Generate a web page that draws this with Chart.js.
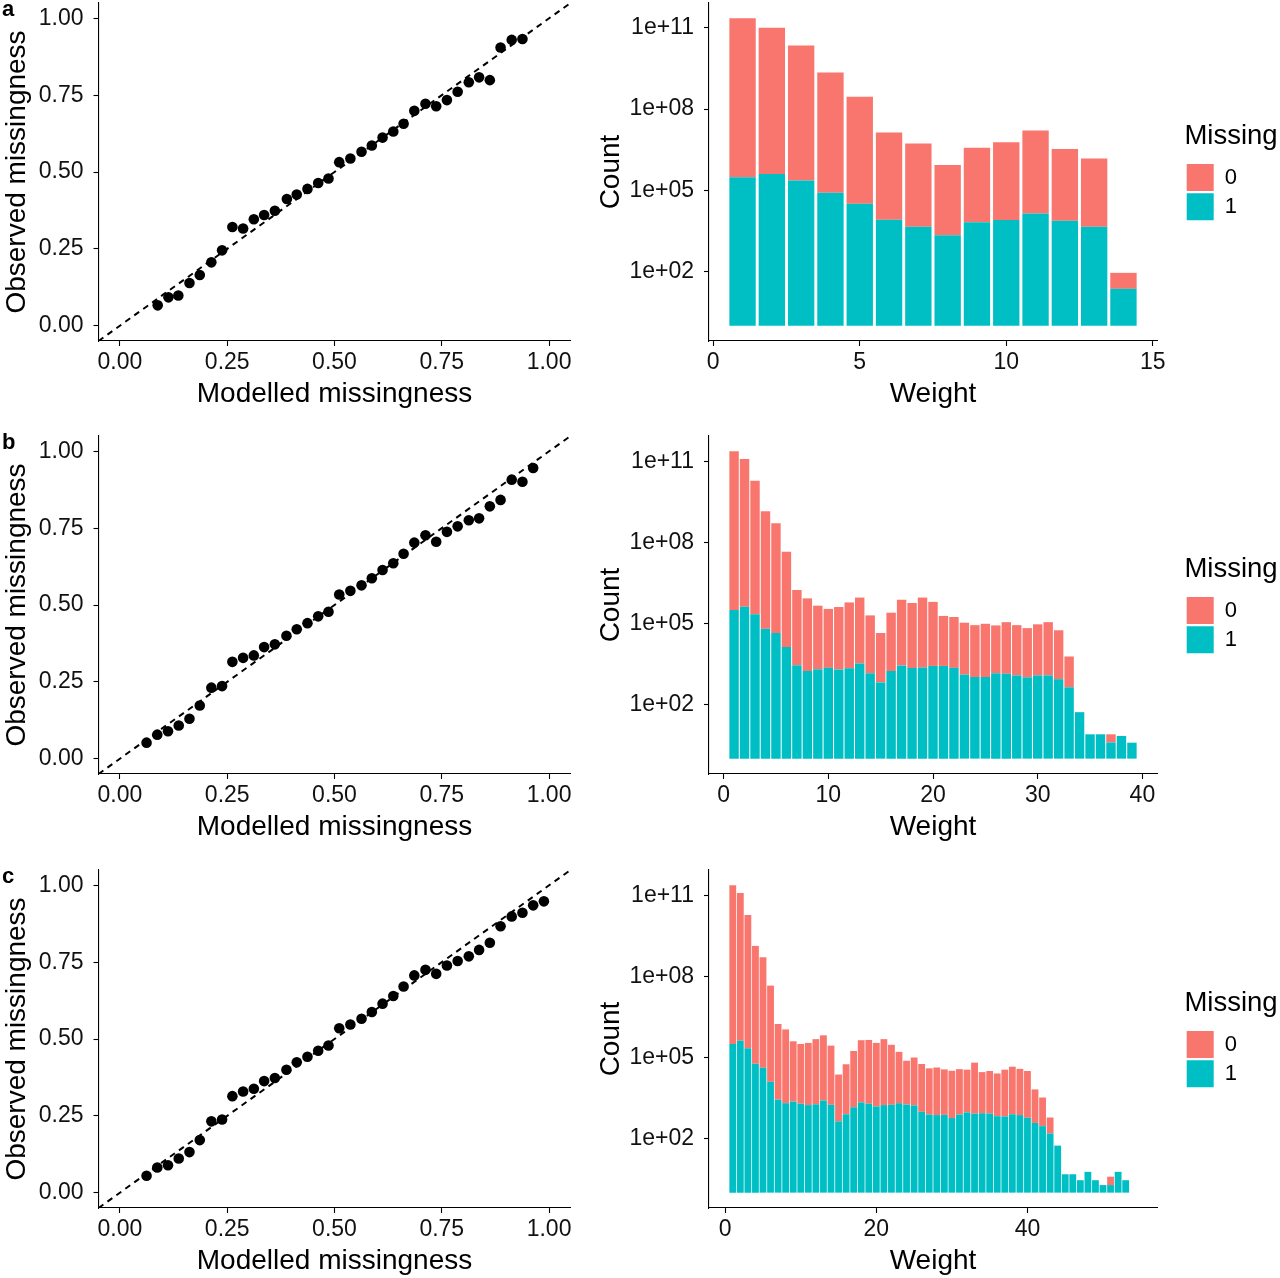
<!DOCTYPE html>
<html>
<head>
<meta charset="utf-8">
<script src="https://cdn.jsdelivr.net/npm/chart.js@4.4.1/dist/chart.umd.min.js"></script>
<style>
html,body{margin:0;padding:0;background:#fff;width:1280px;height:1278px;overflow:hidden;}
canvas{position:absolute;display:block;}
.tag{position:absolute;left:2px;font:bold 22px 'Liberation Sans',Arial,sans-serif;line-height:22px;color:#000;}
</style>
</head>
<body>
<script>
// ---------------- DATA ----------------
const scatterTicks = [0, 0.25, 0.5, 0.75, 1];
const scatterTickLabels = ['0.00', '0.25', '0.50', '0.75', '1.00'];

const modelledA = [0.088,0.113,0.136,0.162,0.186,0.213,0.238,0.262,0.287,0.312,0.336,0.361,0.389,0.412,0.437,0.462,0.486,0.511,0.537,0.563,0.587,0.612,0.637,0.661,0.686,0.712,0.737,0.762,0.787,0.813,0.837,0.862,0.887,0.913,0.938];
const observedA = [0.066,0.092,0.098,0.139,0.165,0.206,0.245,0.321,0.316,0.346,0.360,0.374,0.412,0.427,0.445,0.464,0.479,0.532,0.544,0.566,0.586,0.612,0.632,0.657,0.699,0.722,0.714,0.734,0.761,0.792,0.808,0.799,0.905,0.930,0.933];

const modelledB = [0.062,0.087,0.112,0.137,0.162,0.186,0.213,0.238,0.262,0.287,0.312,0.336,0.361,0.388,0.412,0.437,0.462,0.486,0.511,0.537,0.563,0.587,0.612,0.637,0.661,0.686,0.712,0.737,0.762,0.787,0.813,0.837,0.862,0.887,0.913,0.938,0.963];
const observedB = [0.052,0.078,0.089,0.108,0.130,0.173,0.231,0.236,0.315,0.328,0.336,0.363,0.372,0.400,0.421,0.441,0.463,0.478,0.534,0.546,0.564,0.587,0.614,0.636,0.667,0.703,0.727,0.706,0.738,0.756,0.776,0.782,0.821,0.842,0.908,0.901,0.946];

const modelledC = [0.062,0.087,0.112,0.137,0.162,0.186,0.213,0.238,0.262,0.287,0.312,0.336,0.361,0.388,0.412,0.437,0.462,0.486,0.511,0.537,0.563,0.587,0.612,0.637,0.661,0.686,0.712,0.737,0.762,0.787,0.813,0.837,0.862,0.887,0.913,0.938,0.963,0.988];
const observedC = [0.055,0.082,0.089,0.111,0.132,0.171,0.232,0.238,0.314,0.329,0.338,0.363,0.373,0.400,0.424,0.442,0.462,0.479,0.535,0.547,0.566,0.588,0.615,0.640,0.671,0.707,0.725,0.712,0.739,0.754,0.769,0.790,0.813,0.867,0.899,0.911,0.935,0.948];

// Count axis (bar heights are in log10 units, as drawn by the original stacked log plot)
const countTicks = [2, 5, 8, 11];
const countTickLabels = ['1e+02', '1e+05', '1e+08', '1e+11'];

const weightsA = [1,2,3,4,5,6,7,8,9,10,11,12,13,14];
const weightTicksA = [0, 5, 10, 15];
const logCount1A = [5.48,5.60,5.36,4.91,4.50,3.91,3.65,3.34,3.82,3.90,4.14,3.87,3.65,1.36];
const logCount0A = [5.87,5.40,4.99,4.44,3.95,3.22,3.08,2.59,2.75,2.87,3.07,2.65,2.52,0.59];

const weightsB = [1,2,3,4,5,6,7,8,9,10,11,12,13,14,15,16,17,18,19,20,21,22,23,24,25,26,27,28,29,30,31,32,33,34,35,36,37,38,39];
const weightTicksB = [0, 10, 20, 30, 40];
const logCount1B = [5.50,5.62,5.34,4.81,4.65,4.13,3.46,3.24,3.31,3.36,3.30,3.34,3.52,3.16,2.82,3.24,3.45,3.35,3.37,3.43,3.43,3.36,3.11,3.02,3.02,3.16,3.14,3.08,3.01,3.08,3.08,2.94,2.64,1.72,0.90,0.90,0.60,0.84,0.59];
const logCount0B = [5.87,5.47,4.94,4.34,4.06,3.53,2.78,2.69,2.35,2.18,2.31,2.44,2.44,2.14,1.83,2.16,2.43,2.41,2.59,2.37,1.85,1.88,1.92,1.92,1.97,1.77,1.91,1.86,1.82,1.89,1.97,1.81,1.14,0,0,0,0.30,0,0];

const weightsC = [1,2,3,4,5,6,7,8,9,10,11,12,13,14,15,16,17,18,19,20,21,22,23,24,25,26,27,28,29,30,31,32,33,34,35,36,37,38,39,40,41,42,43,44,45,46,47,48,49,50,51,52,53];
const weightTicksC = [0, 20, 40];
const logCount1C = [5.50,5.62,5.34,4.77,4.62,4.10,3.44,3.31,3.37,3.29,3.24,3.27,3.41,3.25,2.64,2.90,3.16,3.34,3.29,3.19,3.24,3.25,3.31,3.26,3.23,2.99,2.89,2.87,2.88,2.76,2.89,2.97,2.92,2.94,2.93,2.83,2.82,2.90,2.87,2.77,2.58,2.46,2.19,1.74,0.68,0.68,0.46,0.77,0.46,0.28,0.28,0.77,0.46];
const logCount0C = [5.87,5.47,4.93,4.36,4.09,3.56,2.80,2.73,2.23,2.21,2.30,2.41,2.41,2.19,1.73,1.85,2.08,2.30,2.36,2.35,2.44,2.22,1.90,1.62,1.77,1.77,1.71,1.76,1.68,1.75,1.68,1.58,1.89,1.52,1.57,1.58,1.73,1.76,1.71,1.73,1.24,1.06,0.59,0,0,0,0,0,0,0,0.31,0,0];

const panelLabels = ['a', 'b', 'c'];
const missingLabels = ['0', '1'];

// ---------------- STYLE / LAYOUT ----------------
const RED = '#F8766D', TEAL = '#00BFC4';
const FONT = "'Liberation Sans', Arial, Helvetica, sans-serif";
Chart.defaults.font.family = FONT;
Chart.defaults.color = '#000';
const PANEL_TOPS = [0, 433, 867];
const CANVAS_H = 411;

function mkCanvas(left, top, w, h) {
  const c = document.createElement('canvas');
  c.width = w; c.height = h;
  c.style.left = left + 'px'; c.style.top = top + 'px';
  c.style.width = w + 'px'; c.style.height = h + 'px';
  document.body.appendChild(c);
  return c;
}

function axis(min, max, tickVals, tickLabels, title, isX, fitSize, titlePad) {
  return {
    type: 'linear', min: min, max: max, offset: false,
    afterBuildTicks: s => { s.ticks = tickVals.map(v => ({ value: v })); },
    afterFit: s => {
      if (isX) s.height = fitSize; else s.width = fitSize;
      s.paddingTop = 0; s.paddingBottom = 0; s.paddingLeft = 0; s.paddingRight = 0;
    },
    ticks: {
      autoSkip: false, maxRotation: 0, minRotation: 0,
      padding: isX ? 3 : 10, color: '#111', font: { size: 23 },
      callback: v => { const i = tickVals.indexOf(v); return i >= 0 ? tickLabels[i] : ''; }
    },
    grid: { display: true, drawOnChartArea: false, drawTicks: true, tickLength: 5,
            tickWidth: 1.1, tickColor: '#000', color: '#000', offset: false },
    border: { display: true, color: '#000', width: 1.1 },
    title: { display: true, text: title, font: { size: 28 }, color: '#000', padding: titlePad }
  };
}

function scatterPanel(idx, xs, ys) {
  const top = PANEL_TOPS[idx];
  const cv = mkCanvas(0, top, 590, CANVAS_H);
  const pts = xs.map((x, i) => ({ x: x, y: ys[i] }));
  new Chart(cv, {
    type: 'scatter',
    data: {
      datasets: [
        { data: pts, backgroundColor: '#000', borderWidth: 0, pointRadius: 5.3, pointHoverRadius: 5.3 },
        { type: 'line', data: [{ x: -0.05, y: -0.05 }, { x: 1.05, y: 1.05 }], showLine: true,
          borderColor: '#000', borderWidth: 2, borderDash: [6, 5], pointRadius: 0, fill: false }
      ]
    },
    options: {
      responsive: false, animation: false, events: [],
      layout: { autoPadding: false, padding: { top: 3, left: 0, right: 19.5, bottom: 0 } },
      plugins: { legend: { display: false }, tooltip: { enabled: false } },
      scales: {
        x: axis(-0.05, 1.05, scatterTicks, scatterTickLabels, 'Modelled missingness', true, CANVAS_H - 341, { top: 0, bottom: 0 }),
        y: axis(-0.05, 1.05, scatterTicks, scatterTickLabels, 'Observed missingness', false, 98.5, { top: 0, bottom: 0 })
      }
    }
  });
  const tag = document.createElement('div');
  tag.className = 'tag';
  tag.style.top = (top - 2) + 'px';
  tag.textContent = panelLabels[idx];
  document.body.appendChild(tag);
}

const LEGEND_W = 123, LEGEND_SHIFT = 27.4;
const legendPlace = {
  id: 'legendPlace',
  afterInit(chart) {
    const lg = chart.legend;
    if (!lg) return;
    const fit = lg.fit;
    lg.fit = function () { fit.call(this); this.width = LEGEND_W; };
  },
  afterLayout(chart) {
    const lg = chart.legend;
    if (lg) { lg.left += LEGEND_SHIFT; }
  }
};

function histPanel(idx, weights, log1, log0, xTicks, xmin, xmax, ymax) {
  const top = PANEL_TOPS[idx];
  const cv = mkCanvas(590, top, 690, CANVAS_H);
  const d1 = weights.map((w, i) => ({ x: w, y: log1[i] }));
  const d0 = weights.map((w, i) => ({ x: w, y: log0[i] }));
  new Chart(cv, {
    type: 'bar',
    data: {
      datasets: [
        { label: missingLabels[1], data: d1, backgroundColor: TEAL, borderWidth: 0,
          categoryPercentage: 1, barPercentage: 0.9, stack: 's' },
        { label: missingLabels[0], data: d0, backgroundColor: RED, borderWidth: 0,
          categoryPercentage: 1, barPercentage: 0.9, stack: 's' }
      ]
    },
    options: {
      responsive: false, animation: false, events: [],
      layout: { autoPadding: false, padding: { top: 3, left: 0, right: 0, bottom: 0 } },
      plugins: {
        tooltip: { enabled: false },
        legend: {
          display: true, position: 'right', align: 'start', fullSize: false, reverse: true,
          labels: { boxWidth: 27, boxHeight: 27, padding: 2.3, font: { size: 22 }, color: '#000' },
          title: { display: true, text: 'Missing', position: 'start', font: { size: 27.5 }, color: '#000',
                   padding: { top: 119.5, bottom: 6.2 } }
        }
      },
      scales: {
        x: Object.assign(axis(xmin, xmax, xTicks, xTicks.map(String), 'Weight', true, CANVAS_H - 341, { top: 0, bottom: 0 }), { stacked: true }),
        y: Object.assign(axis(-0.0500 * ymax, ymax * 1.05, countTicks, countTickLabels, 'Count', false, 119, { top: 4, bottom: 0 }), { stacked: true })
      }
    },
    plugins: [legendPlace]
  });
}

scatterPanel(0, modelledA, observedA);
scatterPanel(1, modelledB, observedB);
scatterPanel(2, modelledC, observedC);

histPanel(0, weightsA, logCount1A, logCount0A, weightTicksA, -0.145, 15.145, 11.35);
histPanel(1, weightsB, logCount1B, logCount0B, weightTicksB, -1.395, 41.395, 11.37);
histPanel(2, weightsC, logCount1C, logCount0C, weightTicksC, -2.145, 57.145, 11.37);
</script>
</body>
</html>
